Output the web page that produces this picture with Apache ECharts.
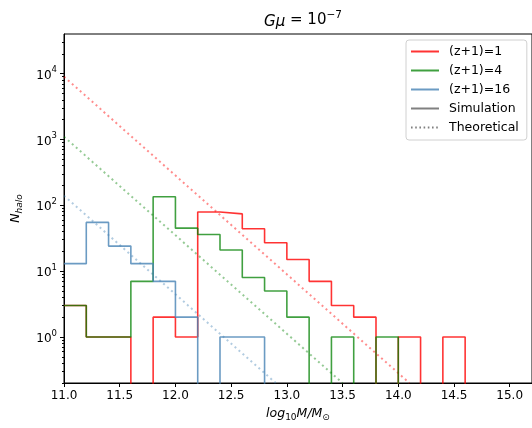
<!DOCTYPE html>
<html><head><meta charset="utf-8">
<script src="https://cdn.jsdelivr.net/npm/echarts@6/dist/echarts.min.js"></script>
<style>html,body{margin:0;padding:0;background:#fff}#c{width:532px;height:428px}</style>
</head><body><div id="c"></div>
<script>
// bin left edges (width 0.2) plus final right edge
const binEdges = [11.0,11.2,11.4,11.6,11.8,12.0,12.2,12.4,12.6,12.8,13.0,13.2,13.4,13.6,13.8,14.0,14.2,14.4,14.6];
// halo counts per bin
const countsZ1  = [3,1,1,0,2,1,79,74,44,27,15,7,3,2,0,1,0,1];
const countsZ4  = [3,1,1,7,135,45,36,21,8,5,2,0,1,0,1,0,0,0];
const countsZ16 = [13,55,24,13,7,2,0,1,1,0,0,0,0,0,0,0,0,0];
// theoretical lines (x, N) read at the left edge and where they leave the plot
const theoryZ1  = [[11.0, 9000], [14.1, 0.2]];
const theoryZ4  = [[11.0, 1100], [13.5, 0.2]];
const theoryZ16 = [[11.0, 140],  [12.9, 0.2]];
const xTickValues = [11.0,11.5,12.0,12.5,13.0,13.5,14.0,14.5,15.0];
const yMajorTicks = [1,10,100,1000,10000];
const yMinorTicks = [0.2,0.3,0.4,0.5,0.6,0.7,0.8,0.9,2,3,4,5,6,7,8,9,20,30,40,50,60,70,80,90,200,300,400,500,600,700,800,900,2000,3000,4000,5000,6000,7000,8000,9000,20000,30000];
const legendNames = ['(z+1)=1','(z+1)=4','(z+1)=16','Simulation','Theoretical'];

const FLOOR = 1e-3; // zero counts drawn below the visible range (clipped)
function stepData(counts){
  const pts = counts.map((c,i)=>[binEdges[i], c>0?c:FLOOR]);
  pts.push([binEdges[counts.length], FLOOR]);
  return pts;
}
const RED='rgba(255,0,0,0.8)', GREEN='rgba(0,128,0,0.75)', BLUE='rgba(70,130,180,0.8)', GREY='#808080';
const FONT='DejaVu Sans';

function histSeries(name, counts, color){
  return {name, type:'line', step:'end', data: stepData(counts), symbol:'none', clip:true,
    lineStyle:{color, width:1.6}, itemStyle:{color, opacity:0}, animation:false};
}
function theorySeries(name, data, color){
  return {name, type:'line', data, symbol:'none', clip:true,
    lineStyle:{color, width:2, type:[2,3.3]}, itemStyle:{color, opacity:0}, animation:false};
}

const chart = echarts.init(document.getElementById('c'), null, {renderer:'canvas'});
chart.setOption({
  animation:false,
  textStyle:{fontFamily:FONT},
  title:{
    text:'{i|Gμ} = 10{sup|−7}', left:298, top:5, textAlign:'center',
    textStyle:{fontFamily:FONT, fontSize:15, fontWeight:'normal', color:'#000',
      rich:{
        i:{fontFamily:FONT, fontSize:15, fontStyle:'italic', color:'#000', lineHeight:20, verticalAlign:'bottom'},
        sup:{fontFamily:FONT, fontSize:10.5, color:'#000', lineHeight:12, verticalAlign:'top'}
      }}
  },
  grid:{left:64, top:34, right:-1, bottom:45, show:true, borderColor:'#000', borderWidth:1, backgroundColor:'transparent'},
  legend:{
    data: legendNames, orient:'vertical', left:406, top:40,
    padding:[5,8,6,4], itemWidth:28, itemHeight:14, itemGap:6,
    backgroundColor:'rgba(255,255,255,0.8)', borderColor:'#d0d0d0', borderWidth:1, borderRadius:3,
    textStyle:{fontFamily:FONT, fontSize:12.5, color:'#000', padding:[0,0,0,5]},
    selectedMode:false
  },
  xAxis:{
    type:'value', min:11, max:15.2, interval:0.5,
    axisLine:{show:true, onZero:false, lineStyle:{color:'#000', width:1}},
    axisTick:{show:true, length:4, customValues:xTickValues, lineStyle:{color:'#000'}},
    axisLabel:{customValues:xTickValues, fontFamily:FONT, fontSize:12, color:'#000', margin:7,
      formatter:v=>v.toFixed(1)},
    splitLine:{show:false},
    name:'{i|log}{s|10}{i|M/M}{s|⊙}', nameLocation:'middle', nameGap:19,
    nameTextStyle:{fontFamily:FONT, color:'#000', rich:{
      i:{fontFamily:FONT, fontSize:12.5, fontStyle:'italic', color:'#000', lineHeight:15, verticalAlign:'top'},
      s:{fontFamily:FONT, fontSize:9, color:'#000', lineHeight:9, verticalAlign:'bottom', padding:[5,0,0,0]}
    }}
  },
  yAxis:[{
    type:'log', logBase:10, min:0.2, max:40000,
    axisLine:{show:true, lineStyle:{color:'#000', width:1}},
    axisTick:{show:true, length:4, customValues:yMajorTicks, lineStyle:{color:'#000'}},
    axisLabel:{customValues:yMajorTicks, margin:7, color:'#000',
      formatter:v=>'{b|10}{s|'+Math.round(Math.log10(v))+'}',
      rich:{
        b:{fontFamily:FONT, fontSize:12, color:'#000', lineHeight:16, verticalAlign:'bottom'},
        s:{fontFamily:FONT, fontSize:8.5, color:'#000', lineHeight:10, verticalAlign:'top'}
      }},
    splitLine:{show:false},
    name:'{n|N}{s|halo}', nameLocation:'middle', nameRotate:90, nameGap:40,
    nameTextStyle:{fontFamily:FONT, color:'#000', rich:{
      n:{fontFamily:FONT, fontSize:12.5, fontStyle:'italic', color:'#000', lineHeight:15, verticalAlign:'top'},
      s:{fontFamily:FONT, fontSize:9, fontStyle:'italic', color:'#000', lineHeight:9, verticalAlign:'bottom', padding:[5,0,0,0]}
    }}
  },{
    type:'log', logBase:10, min:0.2, max:40000, position:'left',
    axisLine:{show:false}, axisLabel:{show:false}, splitLine:{show:false},
    axisTick:{show:true, length:2, customValues:yMinorTicks, lineStyle:{color:'#000'}}
  }],
  series:[
    theorySeries('theory1', theoryZ1, 'rgba(255,0,0,0.45)'),
    theorySeries('theory4', theoryZ4, 'rgba(0,128,0,0.42)'),
    theorySeries('theory16', theoryZ16, 'rgba(70,130,180,0.42)'),
    histSeries('(z+1)=1', countsZ1, RED),
    histSeries('(z+1)=4', countsZ4, GREEN),
    histSeries('(z+1)=16', countsZ16, BLUE),
    {name:'Simulation', type:'line', data:[], symbol:'none', lineStyle:{color:GREY, width:1.6}, itemStyle:{color:GREY, opacity:0}},
    {name:'Theoretical', type:'line', data:[], symbol:'none', lineStyle:{color:GREY, width:1.6, type:[1.6,2.6]}, itemStyle:{color:GREY, opacity:0}}
  ]
});
</script></body></html>
